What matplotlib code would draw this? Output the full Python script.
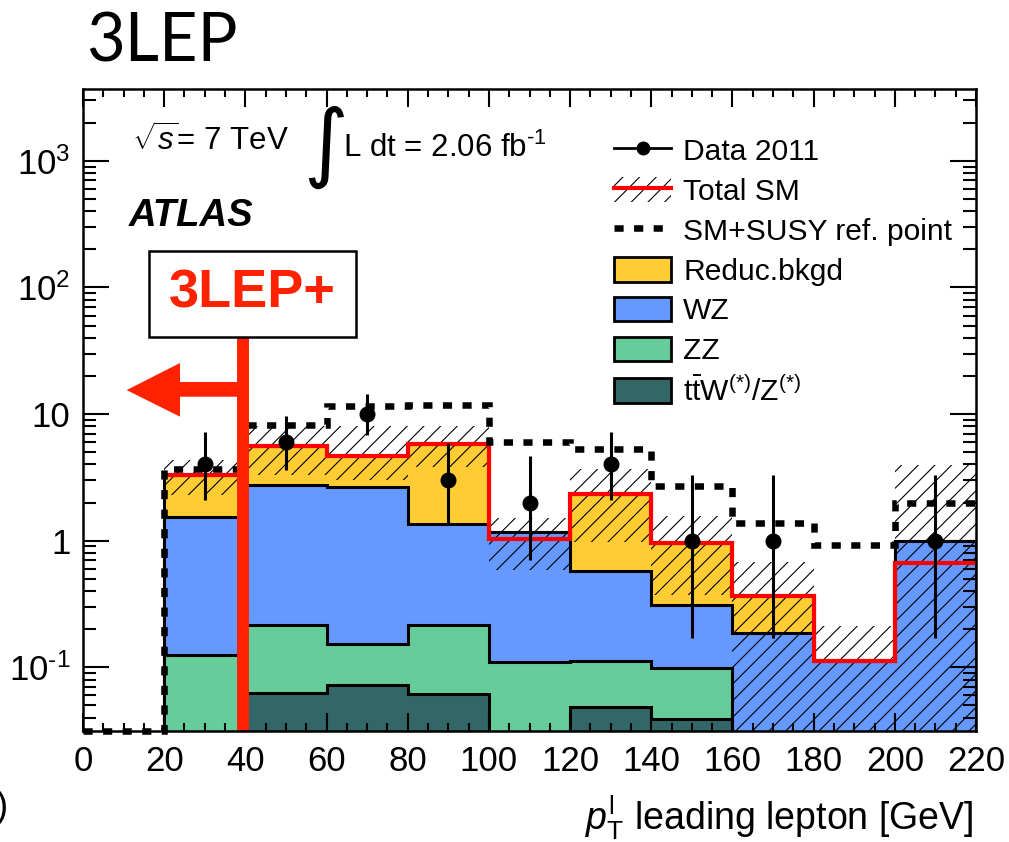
import numpy as np
import matplotlib
matplotlib.use("Agg")
import matplotlib.pyplot as plt
from matplotlib.lines import Line2D
from matplotlib.patches import Patch, Rectangle, Polygon
from matplotlib.ticker import FixedLocator, MultipleLocator, LogLocator, NullFormatter, FixedFormatter

plt.rcParams['font.family'] = ['Liberation Sans', 'DejaVu Sans']
plt.rcParams['mathtext.fontset'] = 'custom'
plt.rcParams['mathtext.rm'] = 'Liberation Sans'
plt.rcParams['mathtext.it'] = 'Liberation Sans:italic'
plt.rcParams['mathtext.bf'] = 'Liberation Sans:bold'
plt.rcParams['hatch.linewidth'] = 0.8

# bin edges in pT of the leading lepton [GeV]
edges = np.arange(20, 221, 20)
centers = 0.5 * (edges[:-1] + edges[1:])

# stacked SM backgrounds (events per bin)
ttv = [0, 0.063, 0.073, 0.061, 0, 0.049, 0.039, 0, 0, 0]
zz = [0.124, 0.152, 0.080, 0.154, 0.110, 0.064, 0.059, 0, 0, 0]
wz = [1.41, 2.54, 2.50, 1.13, 1.06, 0.46, 0.21, 0.185, 0.112, 1.0]
reduc = [1.79, 2.80, 2.04, 4.49, 0, 1.77, 0.65, 0.183, 0, 0]

# total SM and its uncertainty band
total_sm = [3.32, 5.55, 4.69, 5.83, 1.04, 2.34, 0.96, 0.368, 0.112, 0.667]
band_hi = [4.36, 8.0, 8.0, 8.0, 1.51, 3.68, 1.56, 0.674, 0.213, 3.98]
band_lo = [2.3, 3.3, 3.0, 3.8, 0.59, 0.97, 0.375, 0.001, 0.001, 0.001]

# SM + SUSY reference point
susy = [3.68, 8.13, 11.5, 11.8, 6.0, 5.32, 2.68, 1.38, 0.918, 2.0]

# data 2011 with asymmetric (Poisson) error bars
data = [4, 6, 10, 3, 2, 4, 1, 1, 0, 1]
data_lo = [2.09, 3.62, 6.88, 1.37, 0.71, 2.09, 0.17, 0.17, 0, 0.17]
data_hi = [7.16, 9.58, 14.27, 5.92, 4.64, 7.16, 3.30, 3.30, 0, 3.30]

ymin, ymax = 10 ** -1.503, 10 ** 3.567

c_reduc = '#ffcc33'
c_wz = '#6699ff'
c_zz = '#66cc99'
c_ttv = '#336666'
c_sel = '#ff2200'

fig = plt.figure(figsize=(10.09, 8.42), dpi=100)
ax = fig.add_axes([83 / 1009, 1 - 731 / 842, 893 / 1009, 642 / 842])
ax.set_yscale('log')

# stack (drawn from the top layer down)
layers = [ttv, zz, wz, reduc]
cols = [c_ttv, c_zz, c_wz, c_reduc]
cum = np.cumsum(np.array(layers, dtype=float), axis=0)
for vals, col in zip(cum[::-1], cols[::-1]):
    v = np.where(vals > 0, vals, 1e-3)
    ax.stairs(v, edges, baseline=1e-3, fill=True, facecolor=col,
              edgecolor='black', linewidth=2.2, zorder=1)

# uncertainty band
ax.stairs(band_hi, edges, baseline=np.array(band_lo), fill=True, facecolor='none',
          edgecolor='black', hatch='//', linewidth=0, zorder=3)

# total SM
ax.stairs(total_sm, edges, baseline=None, color='red', linewidth=3, zorder=4)

# SM + SUSY, including the empty 0-20 bin at the axis floor
susy_edges = np.concatenate([[0], edges])
susy_vals = np.concatenate([[ymin], susy])
ax.stairs(susy_vals, susy_edges, baseline=None, color='black', linewidth=4.7,
          linestyle=(0, (1.4, 1.6)), zorder=5, clip_on=False)

# data points
data = np.array(data, dtype=float)
mask = data > 0
yerr = [data[mask] - np.array(data_lo)[mask], np.array(data_hi)[mask] - data[mask]]
ax.errorbar(centers[mask], data[mask], yerr=yerr, fmt='o', color='black',
            ms=10.5, elinewidth=2.2, capsize=0, zorder=6)

ax.set_xlim(0, 220)
ax.set_ylim(ymin, ymax)

# ticks
ax.xaxis.set_major_locator(MultipleLocator(20))
ax.xaxis.set_minor_locator(MultipleLocator(5))
ax.yaxis.set_major_locator(FixedLocator([0.1, 1, 10, 100, 1000]))
ax.yaxis.set_major_formatter(FixedFormatter(['$\\mathregular{10^{\u20101}}$', '1', '10',
                                             r'$\mathregular{10^{2}}$', r'$\mathregular{10^{3}}$']))
ax.yaxis.set_minor_locator(LogLocator(base=10, subs=np.arange(2, 10)))
ax.yaxis.set_minor_formatter(NullFormatter())
ax.tick_params(which='both', direction='in', top=True, right=True, width=1.5)
ax.tick_params(axis='x', which='major', length=13, labelsize=25, pad=10)
ax.tick_params(axis='x', which='minor', length=6)
ax.tick_params(axis='y', which='major', length=19, labelsize=25, pad=9)
ax.tick_params(axis='y', which='minor', length=9.5)
for s in ax.spines.values():
    s.set_linewidth(1.8)
    s.set_zorder(10)

ax.set_xlabel(r'$p_{\mathrm{T}}^{\mathrm{l}}$ leading lepton [GeV]', fontsize=27, ha='right')
ax.xaxis.set_label_coords(0.997, -0.097)

# labels inside the frame
ax.text(0.055, 0.903, r'$\sqrt{s}$= 7 TeV', transform=ax.transAxes, fontsize=22.5, va='baseline')
ax.text(0.247, 0.872, '\u222b', transform=ax.transAxes, fontsize=62,
        family='DejaVu Sans', va='baseline')
ax.text(0.291, 0.894, 'L dt = 2.06 fb$^{\\mathregular{\u20101}}$', transform=ax.transAxes,
        fontsize=22.5, va='baseline')
ax.text(0.0515, 0.787, 'ATLAS', transform=ax.transAxes, fontsize=27.5,
        fontweight='bold', fontstyle='italic', va='baseline')

# 3LEP+ selection: box, line and arrow
ax.add_patch(Rectangle((0.0739, 0.6137), 0.2318, 0.134, transform=ax.transAxes,
                       facecolor='white', edgecolor='black', linewidth=1.8, zorder=9))
ax.text(0.1898, 0.682, '3LEP+', transform=ax.transAxes, fontsize=39, fontweight='bold',
        color=c_sel, ha='center', va='center', zorder=10)
ax.plot([0.179, 0.179], [0.0, 0.6137], transform=ax.transAxes, color=c_sel,
        linewidth=8.6, solid_capstyle='butt', zorder=8)
arrow = [(0.0489, 0.531), (0.1086, 0.5732), (0.1086, 0.5436), (0.179, 0.5436),
         (0.179, 0.5207), (0.1086, 0.5207), (0.1086, 0.4896)]
ax.add_patch(Polygon(arrow, closed=True, transform=ax.transAxes, facecolor=c_sel,
                     edgecolor='none', zorder=8))

# legend
handles = [
    Line2D([], [], color='black', marker='o', ms=9, lw=2),
    (Patch(facecolor='none', edgecolor='black', hatch='//', linewidth=0),
     Line2D([], [], color='red', lw=3)),
    Line2D([], [], color='black', lw=4.7, linestyle=(0, (1.4, 1.6))),
    Patch(facecolor=c_reduc, edgecolor='black', linewidth=2),
    Patch(facecolor=c_wz, edgecolor='black', linewidth=2),
    Patch(facecolor=c_zz, edgecolor='black', linewidth=2),
    Patch(facecolor=c_ttv, edgecolor='black', linewidth=2),
]
labels = ['Data 2011', 'Total SM', 'SM+SUSY ref. point', 'Reduc.bkgd', 'WZ', 'ZZ',
          r'$\mathregular{t\bar{t}W^{(*)}/Z^{(*)}}$']
ax.legend(handles, labels, loc='upper left', bbox_to_anchor=(614 / 1009, 1 - 137 / 842),
          bbox_transform=fig.transFigure, frameon=False, fontsize=21.6,
          handlelength=1.9, handleheight=0.9, handletextpad=0.4,
          labelspacing=0.37, borderpad=0, borderaxespad=0)

# page heading
fig.text(86 / 1009, 1 - 62 / 842, '3LEP', fontsize=48, family='Lato', va='baseline')
fig.text(-0.004, 0.03, ')', fontsize=26)

fig.savefig('out.png', dpi=100)
